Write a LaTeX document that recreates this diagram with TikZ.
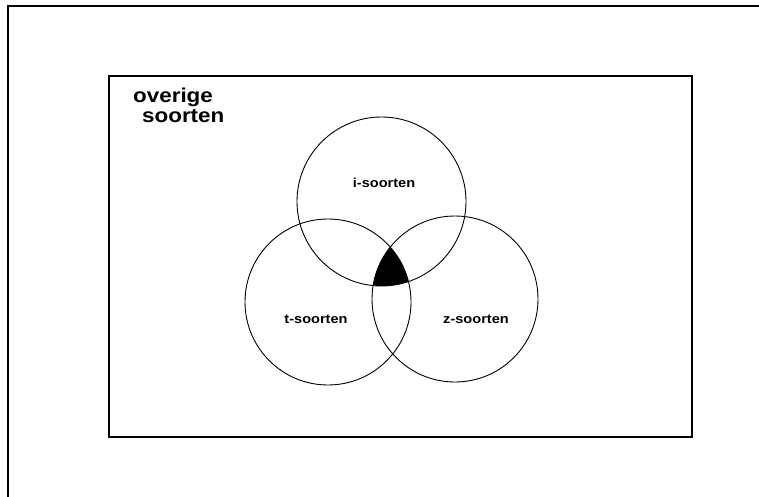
\documentclass[tikz,border=0pt]{standalone}
\usepackage{fontspec}
\setmainfont{Liberation Sans}
\newfontfamily\widebold[FakeStretch=1.12]{Liberation Sans Bold}
\begin{document}
\begin{tikzpicture}[x=1pt,y=-1pt,
  setcircle/.style={circle,draw,line width=0.9pt,inner sep=0pt},
  smalllabel/.style={font=\widebold\fontsize{13}{14}\selectfont,inner sep=0pt,anchor=base},
  biglabel/.style={font=\widebold\fontsize{20}{20}\selectfont,inner sep=0pt,align=left,anchor=base west}]
\useasboundingbox (0,0) rectangle (759,497);
% outer frame (top and left sides visible)
\draw[line width=2pt] (8,497) -- (8,6) -- (759,6);
% universe rectangle
\node[draw,line width=1.2pt,inner sep=0pt,minimum width=583pt,minimum height=361pt] (univ) at (400.5,256.5) {};
% shaded triple intersection
\begin{scope}
  \clip (381.5,201.5) circle (84.5pt);
  \clip (328,302) circle (83pt);
  \fill[black] (455,299) circle (83pt);
\end{scope}
% circles
\node[setcircle,minimum size=169pt] (iset) at (381.5,201.5) {};
\node[setcircle,minimum size=166pt] (tset) at (328,302) {};
\node[setcircle,minimum size=166pt] (zset) at (455,299) {};
% labels
\node[smalllabel] (ilab) at (384,187) {i-soorten};
\node[smalllabel] (tlab) at (316,323) {t-soorten};
\node[smalllabel] (zlab) at (476,323) {z-soorten};
\node[biglabel] (rest) at (133,123) {overige\\ \hspace*{9pt}soorten};
\end{tikzpicture}
\end{document}
